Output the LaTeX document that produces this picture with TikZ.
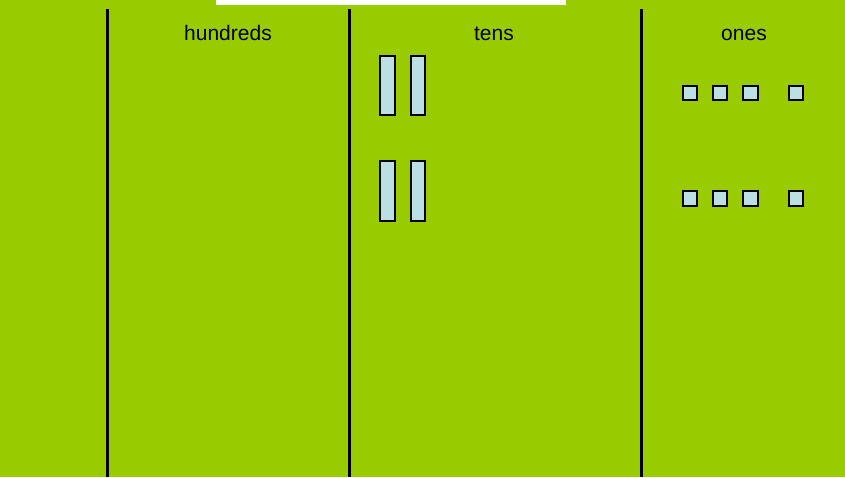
\documentclass[tikz,border=0pt]{standalone}
\usepackage{fontspec}
\setmainfont{Liberation Sans}
\definecolor{bggreen}{RGB}{153,204,0}
\definecolor{blockblue}{RGB}{187,224,227}
\begin{document}
\begin{tikzpicture}[x=1pt,y=-1pt,
  colline/.style={line width=3pt,black},
  head/.style={anchor=base,font=\fontsize{21}{25}\selectfont,inner sep=0pt},
  tenrod/.style={draw=black,fill=blockblue,line width=2pt,minimum width=14.4pt,minimum height=59.3pt,inner sep=0pt,outer sep=0pt},
  unitcube/.style={draw=black,fill=blockblue,line width=2pt,minimum width=14.6pt,minimum height=14.6pt,inner sep=0pt,outer sep=0pt}]
\fill[bggreen] (0,0) rectangle (845,477);
\useasboundingbox (0,0) rectangle (845,477);
\fill[white] (216,0) rectangle (566,5);
\coordinate (l1t) at (107,9); \coordinate (l1b) at (107,477);
\coordinate (l2t) at (349,9); \coordinate (l2b) at (349,477);
\coordinate (l3t) at (641,9); \coordinate (l3b) at (641,477);
\draw[colline] (l1t) -- (l1b);
\draw[colline] (l2t) -- (l2b);
\draw[colline] (l3t) -- (l3b);
\node[head] (hundreds) at (228,40.5) {hundreds};
\node[head] (tens) at (494,40.5) {tens};
\node[head] (ones) at (744,40.5) {ones};
\node[tenrod] (t1) at (387.5,85.3) {};
\node[tenrod] (t2) at (418,85.3) {};
\node[tenrod] (t3) at (387.5,191) {};
\node[tenrod] (t4) at (418,191) {};
\foreach \x [count=\i] in {690,720,750.5,796}{
  \node[unitcube] (oa\i) at (\x,93) {};
  \node[unitcube] (ob\i) at (\x,198.3) {};
}
\end{tikzpicture}
\end{document}
